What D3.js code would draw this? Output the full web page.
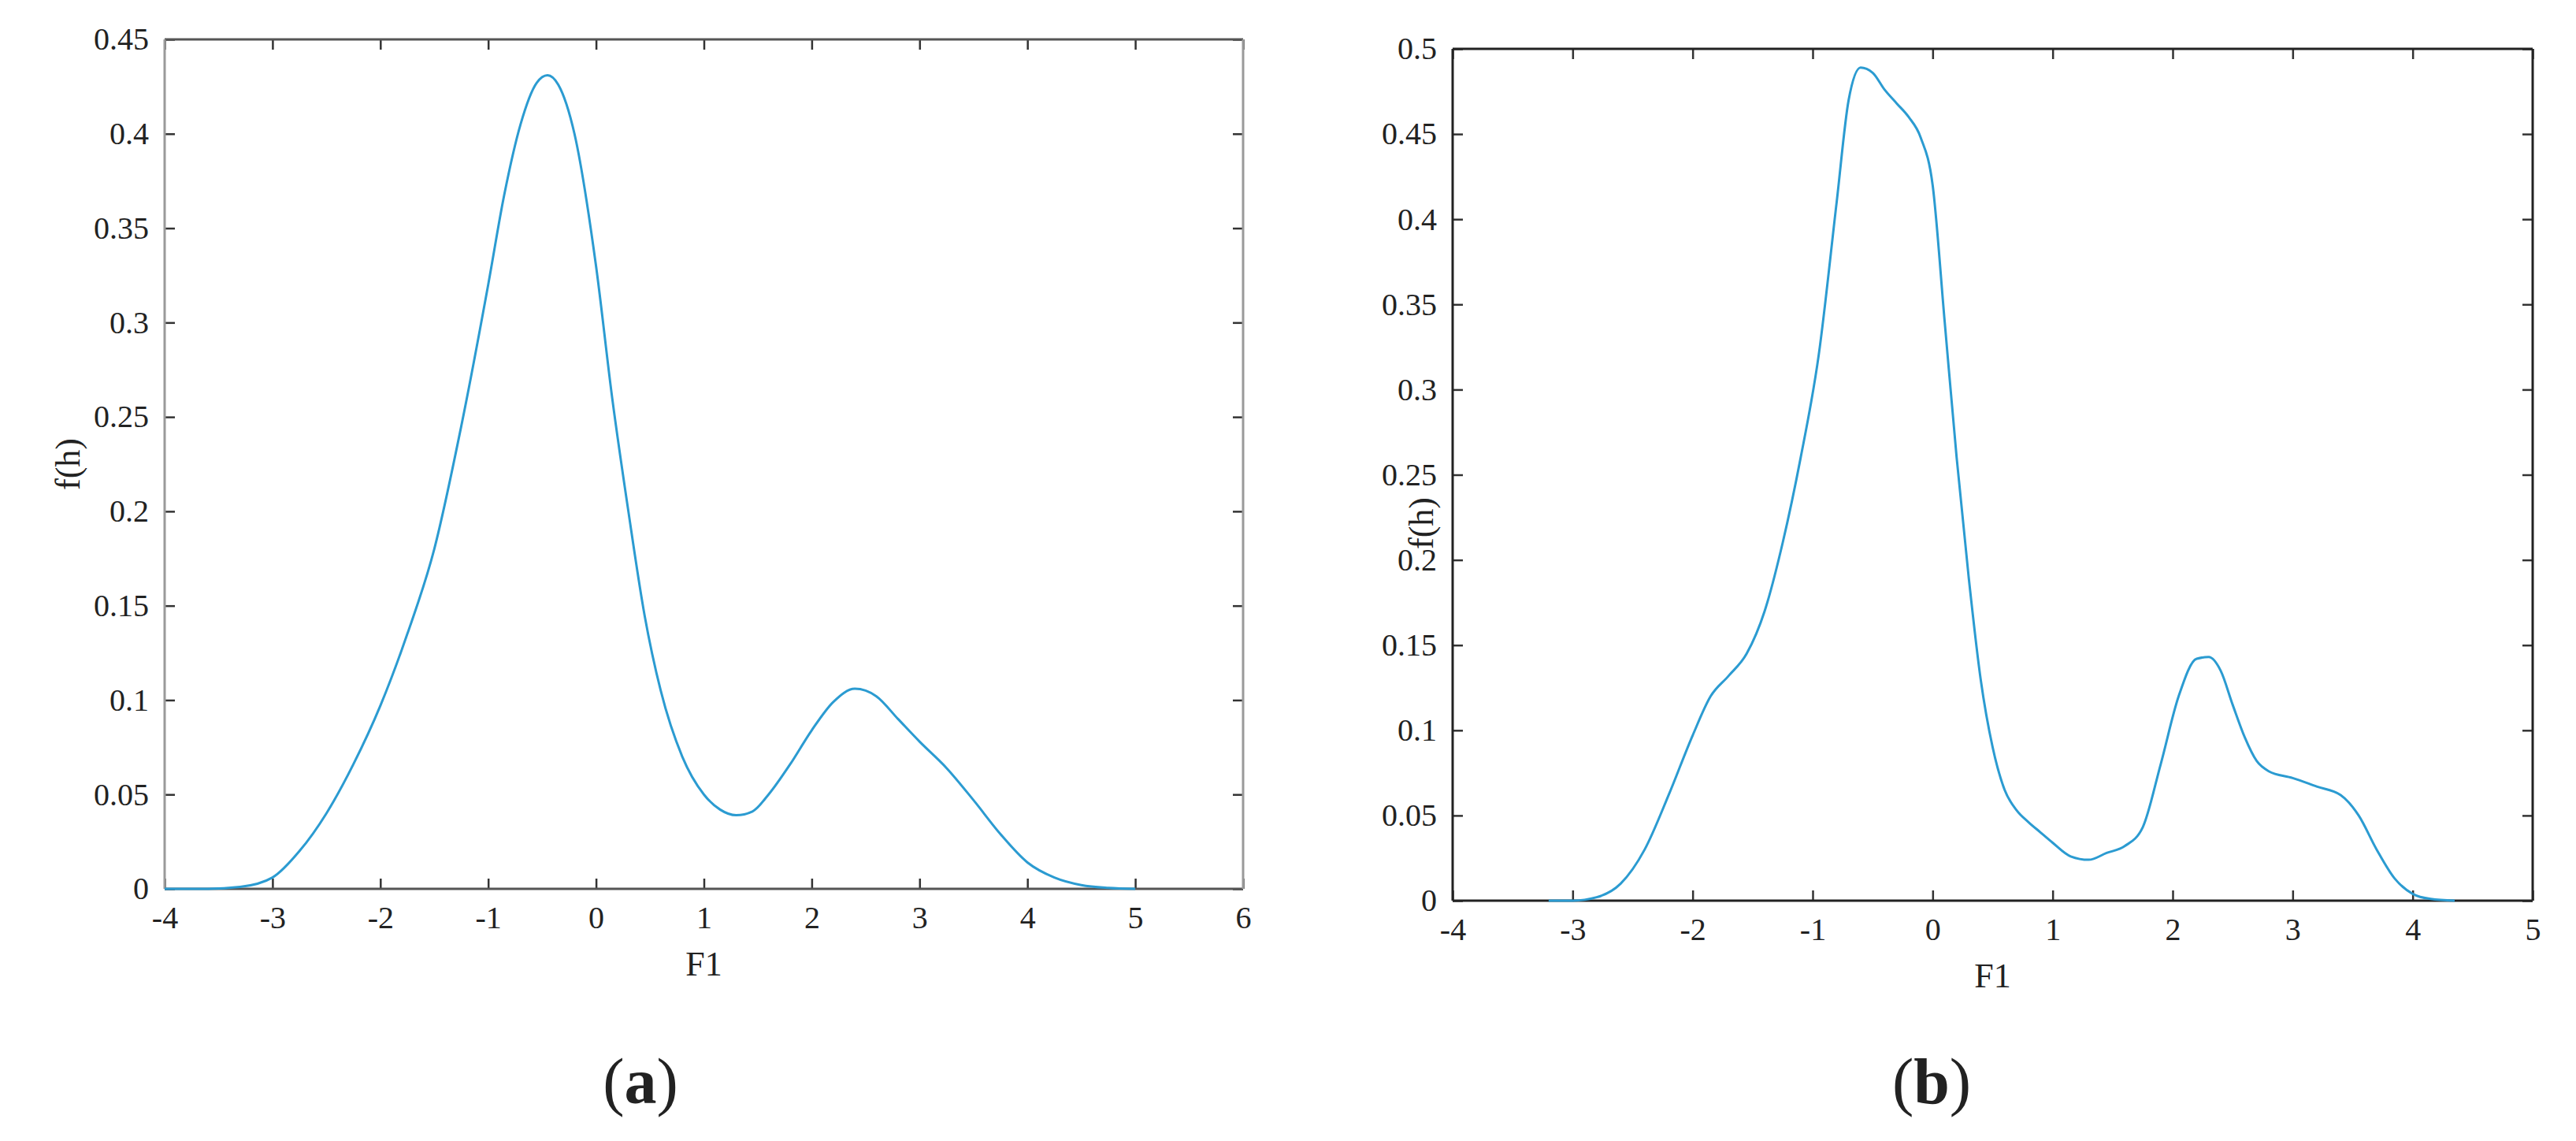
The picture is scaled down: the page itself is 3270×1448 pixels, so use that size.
<!DOCTYPE html>
<html>
<head>
<meta charset="utf-8">
<script src="https://cdn.jsdelivr.net/npm/d3@7"></script>
<style>
  body { margin: 0; background: #fff; }
  text { font-family: "Liberation Serif", "DejaVu Serif", serif; fill: #222; }
</style>
</head>
<body>
<div id="chart"></div>
<script>
// panel (a) density curve
var xA = [-4, -3.6, -3.3, -3, -2.75, -2.5, -2.25, -2, -1.75, -1.5, -1.25, -1, -0.85, -0.7, -0.55, -0.45, -0.35, -0.2, 0, 0.15, 0.3, 0.45, 0.6, 0.8, 1, 1.15, 1.3, 1.45, 1.6, 1.8, 2, 2.2, 2.4, 2.6, 2.8, 3, 3.25, 3.5, 3.75, 4, 4.25, 4.5, 4.75, 5];
var yA = [0, 0, 0.001, 0.006, 0.02, 0.04, 0.066, 0.097, 0.135, 0.18, 0.245, 0.32, 0.368, 0.405, 0.427, 0.431, 0.426, 0.4, 0.33, 0.26, 0.2, 0.145, 0.105, 0.07, 0.05, 0.042, 0.039, 0.041, 0.05, 0.066, 0.084, 0.099, 0.106, 0.102, 0.09, 0.078, 0.064, 0.047, 0.029, 0.014, 0.006, 0.002, 0.0005, 0];

// panel (b) density curve
var xB = [-3.2, -3, -2.8, -2.6, -2.4, -2.2, -2, -1.85, -1.7, -1.55, -1.4, -1.25, -1.1, -0.95, -0.8, -0.7, -0.6, -0.5, -0.4, -0.3, -0.2, -0.1, 0, 0.1, 0.2, 0.3, 0.4, 0.5, 0.6, 0.7, 0.8, 0.9, 1, 1.15, 1.3, 1.45, 1.6, 1.75, 1.9, 2.05, 2.2, 2.3, 2.4, 2.5, 2.6, 2.7, 2.8, 3, 3.2, 3.4, 3.55, 3.7, 3.85, 4, 4.15, 4.35];
var yB = [0, 0, 0.002, 0.01, 0.03, 0.062, 0.097, 0.12, 0.132, 0.145, 0.17, 0.21, 0.26, 0.32, 0.41, 0.47, 0.489, 0.486, 0.476, 0.468, 0.46, 0.448, 0.42, 0.34, 0.26, 0.19, 0.13, 0.09, 0.065, 0.053, 0.046, 0.04, 0.034, 0.026, 0.024, 0.028, 0.032, 0.043, 0.08, 0.12, 0.142, 0.143, 0.135, 0.115, 0.096, 0.082, 0.076, 0.072, 0.067, 0.062, 0.05, 0.03, 0.013, 0.004, 0.001, 0];

var ticksXA = [-4, -3, -2, -1, 0, 1, 2, 3, 4, 5, 6];
var ticksXB = [-4, -3, -2, -1, 0, 1, 2, 3, 4, 5];
var ticksYA = [0, 0.05, 0.1, 0.15, 0.2, 0.25, 0.3, 0.35, 0.4, 0.45];
var ticksYB = [0, 0.05, 0.1, 0.15, 0.2, 0.25, 0.3, 0.35, 0.4, 0.45, 0.5];

var width = 3270, height = 1448;
var lineColor = '#2b9bd1';

var svg = d3.select('#chart').append('svg')
  .attr('width', width)
  .attr('height', height);

var panels = [
  { xs: xA, ys: yA, xd: [-4, 6], yd: [0, 0.45], tx: ticksXA, ty: ticksYA,
    left: 209, right: 1578, top: 50, bottom: 1128,
    side: '#9a9a9a', edge: '#555', ylab: [86, 589], tag: 'a', tagX: 813 },
  { xs: xB, ys: yB, xd: [-4, 5], yd: [0, 0.5], tx: ticksXB, ty: ticksYB,
    left: 1844, right: 3215, top: 62, bottom: 1143,
    side: '#222', edge: '#222', ylab: [1804, 664], tag: 'b', tagX: 2452 }
];

panels.forEach(function(p) {
  var x = d3.scaleLinear().domain(p.xd).range([p.left, p.right]);
  var y = d3.scaleLinear().domain(p.yd).range([p.bottom, p.top]);
  var g = svg.append('g');

  // inward ticks on all four sides, matlab box style
  var tl = 13;
  var fmt = function(d) { return String(d); };

  g.append('g').attr('transform', 'translate(0,' + p.bottom + ')')
    .call(d3.axisBottom(x).tickValues(p.tx).tickSizeInner(-tl).tickSizeOuter(0).tickPadding(22).tickFormat(fmt))
    .call(function(a) { a.select('.domain').remove(); });
  g.append('g').attr('transform', 'translate(0,' + p.top + ')')
    .call(d3.axisTop(x).tickValues(p.tx).tickSizeInner(-tl).tickSizeOuter(0).tickFormat(''))
    .call(function(a) { a.select('.domain').remove(); });
  g.append('g').attr('transform', 'translate(' + p.left + ',0)')
    .call(d3.axisLeft(y).tickValues(p.ty).tickSizeInner(-tl).tickSizeOuter(0).tickPadding(20).tickFormat(fmt))
    .call(function(a) { a.select('.domain').remove(); });
  g.append('g').attr('transform', 'translate(' + p.right + ',0)')
    .call(d3.axisRight(y).tickValues(p.ty).tickSizeInner(-tl).tickSizeOuter(0).tickFormat(''))
    .call(function(a) { a.select('.domain').remove(); });

  g.selectAll('.tick line').attr('stroke', '#333').attr('stroke-width', 2.5);
  g.selectAll('.tick text')
    .style('font-family', '"Liberation Serif", serif')
    .style('font-size', '40px')
    .attr('fill', '#222');

  // frame
  g.append('line').attr('x1', p.left).attr('x2', p.right).attr('y1', p.top).attr('y2', p.top)
    .attr('stroke', p.edge).attr('stroke-width', 3);
  g.append('line').attr('x1', p.left).attr('x2', p.right).attr('y1', p.bottom).attr('y2', p.bottom)
    .attr('stroke', p.edge).attr('stroke-width', 3);
  g.append('line').attr('x1', p.left).attr('x2', p.left).attr('y1', p.top).attr('y2', p.bottom)
    .attr('stroke', p.side).attr('stroke-width', 3);
  g.append('line').attr('x1', p.right).attr('x2', p.right).attr('y1', p.top).attr('y2', p.bottom)
    .attr('stroke', p.side).attr('stroke-width', 3);

  var pts = p.xs.map(function(v, i) { return [v, p.ys[i]]; });
  var line = d3.line()
    .x(function(d) { return x(d[0]); })
    .y(function(d) { return y(d[1]); })
    .curve(d3.curveMonotoneX);

  g.append('path')
    .datum(pts)
    .attr('d', line)
    .attr('fill', 'none')
    .attr('stroke', lineColor)
    .attr('stroke-width', 3);

  // axis titles
  g.append('text')
    .attr('x', (p.left + p.right) / 2)
    .attr('y', p.bottom + 110)
    .attr('text-anchor', 'middle')
    .style('font-size', '44px')
    .text('F1');

  g.append('text')
    .attr('transform', 'translate(' + p.ylab[0] + ',' + p.ylab[1] + ') rotate(-90)')
    .attr('text-anchor', 'middle')
    .attr('dy', '0.35em')
    .style('font-size', '44px')
    .text('f(h)');

  // panel tag
  var t = svg.append('text')
    .attr('x', p.tagX)
    .attr('y', 1400)
    .attr('text-anchor', 'middle')
    .style('font-size', '82px')
    .attr('fill', '#000');
  t.append('tspan').text('(');
  t.append('tspan').style('font-weight', 'bold').text(p.tag);
  t.append('tspan').text(')');
});
</script>
</body>
</html>
